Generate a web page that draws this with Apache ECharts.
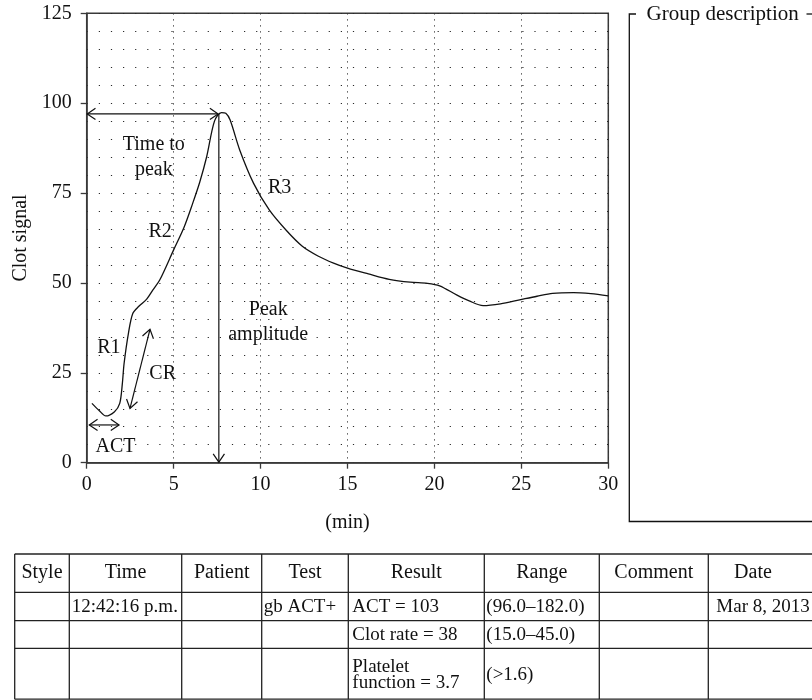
<!DOCTYPE html>
<html><head><meta charset="utf-8">
<script src="https://cdn.jsdelivr.net/npm/echarts/dist/echarts.min.js"></script>
<style>html,body{margin:0;padding:0;background:#fff}#c{width:812px;height:700px}</style>
</head><body><div id="c"></div>
<script>
// ---- data ----
const timeMin = [0.3,0.7,1.1,1.6,1.9,2.05,2.15,2.4,2.65,3.0,3.45,3.8,4.2,5.0,5.6,6.1,6.5,6.9,7.35,7.75,8.0,8.25,8.8,9.6,10.5,11.5,12.4,13.3,14.2,15,16.2,17.4,18.6,19.6,20.3,21.3,22.0,22.8,23.8,24.9,25.9,26.8,28.0,29,30];
const clotSignal = [16.5,14.6,13.0,14.2,16.5,22,27.6,36,41.5,43.5,45.5,48,50.8,59.2,65.5,72.2,78,85.1,95,97.4,97.2,95.3,87,77.7,70.3,64.5,60.2,57.5,55.5,54.1,52.5,51,50.2,49.9,49.2,46.6,45,43.7,44.2,45.3,46.3,47.1,47.3,47,46.4];
const xAxisName = '(min)';
const yAxisName = 'Clot signal';
// arrows: x1, y1, x2, y2, head at start, head at end
const arrowSegments = [
  [0.03, 97, 7.56, 97, 1, 1],
  [7.6, 97, 7.6, 0.15, 0, 1],
  [0.15, 10.5, 1.86, 10.5, 1, 1],
  [2.49, 15.1, 3.64, 37.1, 1, 1]
];
const annotationNames = ['Time to\npeak', 'R3', 'R2', 'R1', 'CR', 'Peak\namplitude', 'ACT'];
const annotationX = [3.86, 11.1, 4.22, 1.28, 4.37, 10.44, 1.66];
const annotationY = [85.0, 76.5, 64.2, 32.0, 24.8, 39.1, 4.4];
const groupTitle = 'Group description';
const tableHeader = ['Style', 'Time', 'Patient', 'Test', 'Result', 'Range', 'Comment', 'Date'];
const tableRows = [
  ['', '12:42:16 p.m.', '', 'gb ACT+', 'ACT = 103', '(96.0–182.0)', '', 'Mar 8, 2013'],
  ['', '', '', '', 'Clot rate = 38', '(15.0–45.0)', '', ''],
  ['', '', '', '', 'Platelet\nfunction = 3.7', '(>1.6)', '', '']
];

// ---- layout / style ----
const FONT = '"Liberation Serif", "DejaVu Serif", serif';
const INK = '#111';
const AX = '#3a3a3a';
const colEdges = [14.7, 69.3, 181.7, 261.7, 348.3, 484.3, 599.3, 708.3, 797.7];
const rowEdges = [554, 592.3, 620.7, 648.3, 699.2];
const bodyPad = [3, 2.5, 3, 2, 4, 2, 3, 8];

const graphics = [];
// group description box
graphics.push({type:'polyline', shape:{points:[[636,14],[629.3,14],[629.3,521.5],[812,521.5]]}, style:{stroke:INK, lineWidth:1.3, fill:null}});
graphics.push({type:'line', shape:{x1:806.5,y1:14,x2:815,y2:14}, style:{stroke:INK, lineWidth:1.3}});
graphics.push({type:'text', x:646.5, y:14, style:{text:groupTitle, fontSize:21, fontFamily:FONT, fill:INK, align:'left', verticalAlign:'middle', textAlign:'left', textVerticalAlign:'middle'}});
// table
rowEdges.forEach(y => graphics.push({type:'line', shape:{x1:colEdges[0], y1:y, x2:830, y2:y}, style:{stroke:'#222', lineWidth:1.3}}));
colEdges.slice(0, colEdges.length - 1).forEach(x => graphics.push({type:'line', shape:{x1:x, y1:rowEdges[0], x2:x, y2:rowEdges[rowEdges.length-1]}, style:{stroke:'#222', lineWidth:1.3}}));
tableHeader.forEach((h, i) => {
  graphics.push({type:'text', x:(colEdges[i]+colEdges[i+1])/2, y:(rowEdges[0]+rowEdges[1])/2,
    style:{text:h, fontSize:20, fontFamily:FONT, fill:INK, align:'center', verticalAlign:'middle', textAlign:'center', textVerticalAlign:'middle'}});
});
tableRows.forEach((row, r) => {
  row.forEach((cell, i) => {
    if (!cell) return;
    graphics.push({type:'text', x:colEdges[i] + bodyPad[i], y:(rowEdges[r+1]+rowEdges[r+2])/2 + 1,
      style:{text:cell, fontSize:19, lineHeight:16, fontFamily:FONT, fill:INK, align:'left', verticalAlign:'middle', textAlign:'left', textVerticalAlign:'middle'}});
  });
});

const chart = echarts.init(document.getElementById('c'), null, {renderer:'canvas'});
const dotted = {color:'#2a2a2a', width:1.2, type:[1.2, 10.9]};
chart.setOption({
  backgroundColor:'#fff',
  animation:false,
  grid:{left:86.7, top:13.3, width:521.6, height:449.4, show:true, borderColor:AX, borderWidth:1.5, containLabel:false, outerBoundsMode:'none'},
  xAxis:{type:'value', min:0, max:30, interval:5,
    name:xAxisName, nameLocation:'middle', nameGap:50, nameTextStyle:{fontFamily:FONT, fontSize:20, color:INK},
    axisLine:{show:true, onZero:false, lineStyle:{color:AX, width:1.5}},
    axisTick:{show:true, inside:false, length:6, lineStyle:{color:AX, width:1.3}},
    axisLabel:{margin:12, fontFamily:FONT, fontSize:20, color:INK},
    splitLine:{show:true, lineStyle:{color:'#333', width:1, type:[1.2, 4.8]}}},
  yAxis:{type:'value', min:0, max:125, interval:25,
    name:yAxisName, nameLocation:'middle', nameGap:53, nameRotate:90, nameTextStyle:{fontFamily:FONT, fontSize:20, color:INK},
    axisLine:{show:true, onZero:false, lineStyle:{color:AX, width:1.5}},
    axisTick:{show:true, inside:false, length:6, lineStyle:{color:AX, width:1.3}},
    axisLabel:{margin:15, fontFamily:FONT, fontSize:20, color:INK},
    splitLine:{show:true, lineStyle:dotted},
    minorTick:{show:false, splitNumber:5},
    minorSplitLine:{show:true, lineStyle:dotted}},
  graphic:graphics,
  series:[
    {type:'line', data:timeMin.map((t, i) => [t, clotSignal[i]]), showSymbol:false, symbol:'none', smooth:0.3,
      lineStyle:{color:INK, width:1.3}, silent:true, z:5},
    {type:'custom', data:arrowSegments, encode:{x:[0,2], y:[1,3]}, silent:true, z:6,
      renderItem:function(params, api){
        const a = api.coord([api.value(0), api.value(1)]);
        const b = api.coord([api.value(2), api.value(3)]);
        const st = {stroke:INK, lineWidth:1.2, fill:null};
        const kids = [{type:'line', shape:{x1:a[0], y1:a[1], x2:b[0], y2:b[1]}, style:st}];
        const head = (tip, from) => {
          const ang = Math.atan2(from[1]-tip[1], from[0]-tip[0]);
          const L = 10, w = 0.6;
          return {type:'polyline', shape:{points:[[tip[0]+L*Math.cos(ang+w), tip[1]+L*Math.sin(ang+w)], [tip[0], tip[1]], [tip[0]+L*Math.cos(ang-w), tip[1]+L*Math.sin(ang-w)]]}, style:st};
        };
        if (api.value(4)) kids.push(head(a, b));
        if (api.value(5)) kids.push(head(b, a));
        return {type:'group', children:kids};
      }},
    {type:'scatter', data:annotationNames.map((n, i) => ({name:n, value:[annotationX[i], annotationY[i]]})),
      symbolSize:2, itemStyle:{color:'rgba(0,0,0,0)'}, silent:true, z:7,
      label:{show:true, position:'inside', formatter:'{b}', fontFamily:FONT, fontSize:20, lineHeight:25, color:INK, opacity:1}}
  ]
});
</script>
</body></html>
